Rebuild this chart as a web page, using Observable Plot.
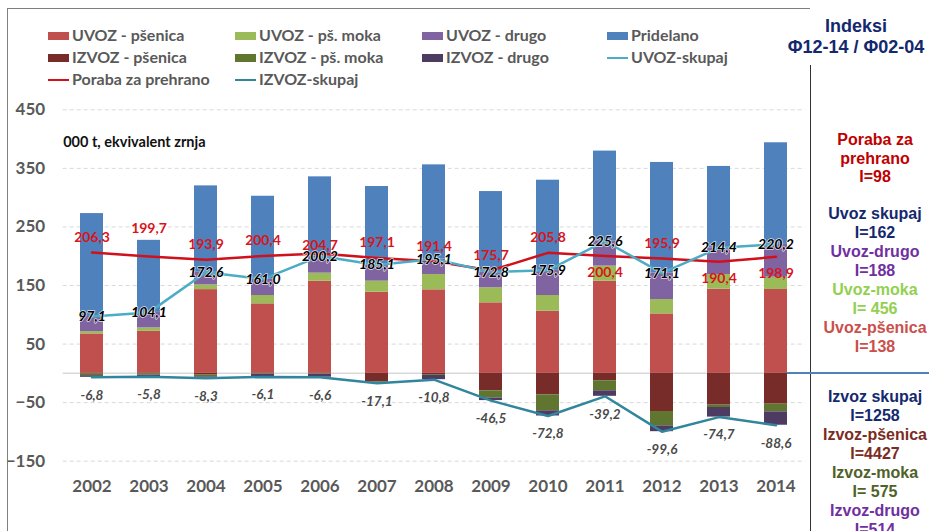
<!DOCTYPE html>
<html><head><meta charset="utf-8">
<script src="https://cdn.jsdelivr.net/npm/d3@7"></script>
<script src="https://cdn.jsdelivr.net/npm/@observablehq/plot@0.6"></script>
<style>
body{margin:0;background:#fff;font-family:Lato,"Open Sans",sans-serif;}
#wrap{position:relative;width:929px;height:531px;overflow:hidden;}
#head{position:relative;height:96px;}
.li{position:absolute;font-size:16px;font-weight:700;color:#595959;white-space:nowrap;line-height:20px;height:20px;}
.sw{display:inline-block;width:21px;margin-right:3px;vertical-align:middle;position:relative;top:-1px;}
.frame{position:absolute;pointer-events:none;}
.idx{position:absolute;text-align:center;font-family:"Liberation Sans",Arial,sans-serif;font-weight:700;font-size:16px;line-height:19px;}
</style>
</head><body>
<div id="wrap">
  <div id="head"></div>
  <div id="chart"></div>
  <div class="frame" style="left:7px;top:8px;width:0;height:523px;border-left:1.5px solid #7f7f7f;"></div>
  <div class="frame" style="left:7px;top:8px;width:803px;height:0;border-top:1.5px solid #7f7f7f;"></div>
  <div class="frame" style="left:810px;top:65px;width:0;height:466px;border-left:1.5px solid #333;"></div>
  <div class="frame" style="left:787px;top:372px;width:142px;height:0;border-top:2px solid #4F81BD;"></div>
  <div class="idx" style="left:786px;top:16px;width:140px;font-size:18px;line-height:21px;color:#14286E;">Indeksi<br>Φ12-14 / Φ02-04</div>
  <div class="idx" style="left:815px;top:131px;width:120px;line-height:18.5px;color:#C00000;">Poraba za<br>prehrano<br>I=98</div>
  <div class="idx" style="left:815px;top:204px;width:120px;">
    <span style="color:#14286E">Uvoz skupaj<br>I=162</span><br>
    <span style="color:#7030A0">Uvoz-drugo<br>I=188</span><br>
    <span style="color:#92D050">Uvoz-moka<br>I= 456</span><br>
    <span style="color:#C9504B">Uvoz-pšenica<br>I=138</span>
  </div>
  <div class="idx" style="left:815px;top:387px;width:120px;">
    <span style="color:#14286E">Izvoz skupaj<br>I=1258</span><br>
    <span style="color:#7B2C22">Izvoz-pšenica<br>I=4427</span><br>
    <span style="color:#4F6228">Izvoz-moka<br>I= 575</span><br>
    <span style="color:#7030A0">Izvoz-drugo<br>I=514</span>
  </div>
</div>
<script>
const years = [2002,2003,2004,2005,2006,2007,2008,2009,2010,2011,2012,2013,2014];
const uvozPsenica = [67.3,71.8,143.0,118.7,157.4,138.5,142.6,120.4,106.0,157.4,101.5,143.7,143.2];
const uvozMoka    = [4.0,5.8,8.0,14.2,13.7,18.9,26.2,25.7,26.9,25.7,24.5,25.1,21.0];
const uvozDrugo   = [25.8,26.5,21.6,28.1,29.1,27.7,26.3,26.7,43.0,42.5,45.1,45.6,56.0];
const pridelano   = [175.7,123.0,147.5,141.4,135.3,133.9,160.9,137.6,153.9,153.9,189.0,138.9,173.5];
const izvozPsenica = [-0.5,-0.5,-3.0,-0.5,-0.5,-14.5,-2.0,-29.8,-36.6,-12.6,-65.2,-54.3,-52.6];
const izvozMoka    = [-3.5,-2.5,-3.0,-1.0,-1.0,-1.0,-1.5,-12.5,-27.4,-17.2,-24.5,-4.0,-13.2];
const izvozDrugo   = [-2.8,-2.8,-2.3,-4.6,-5.1,-1.6,-7.3,-4.2,-8.8,-9.4,-9.9,-16.4,-22.8];
const uvozSkupaj  = [97.1,104.1,172.6,161.0,200.2,185.1,195.1,172.8,175.9,225.6,171.1,214.4,220.2];
const izvozSkupaj = [-6.8,-5.8,-8.3,-6.1,-6.6,-17.1,-10.8,-46.5,-72.8,-39.2,-99.6,-74.7,-88.6];
const poraba      = [206.3,199.7,193.9,200.4,204.7,197.1,191.4,175.7,205.8,200.4,195.9,190.4,198.9];
const yTicks = [450,350,250,150,50,-50,-150];
const barSeries = ["UVOZ - pšenica","UVOZ - pš. moka","UVOZ - drugo","Pridelano","IZVOZ - pšenica","IZVOZ - pš. moka","IZVOZ - drugo"];
const barColors = ["#C0504D","#9BBB59","#8064A2","#4F81BD","#772C2A","#5F7530","#4D3B62"];
const lineSeries = ["UVOZ-skupaj","Poraba za prehrano","IZVOZ-skupaj"];
const lineColors = ["#4BACC6","#D0101A","#31859C"];
const subtitle = "000 t, ekvivalent zrnja";

const barValues = [uvozPsenica,uvozMoka,uvozDrugo,pridelano,izvozPsenica,izvozMoka,izvozDrugo];
const rows = [];
years.forEach((y,i) => barSeries.forEach((s,k) => rows.push({year:String(y), series:s, value:barValues[k][i]})));
const pts = years.map((y,i) => ({year:String(y), uvoz:uvozSkupaj[i], izvoz:izvozSkupaj[i], poraba:poraba[i]}));
const fmt = v => d3.format(".1f")(v).replace(".", ",").replace("\u2212", "-");

// legend
const head = document.getElementById("head");
const legendItems = [
  [barSeries[0],barColors[0],"bar",48,35],[barSeries[1],barColors[1],"bar",235,35],[barSeries[2],barColors[2],"bar",422,35],[barSeries[3],barColors[3],"bar",607,35],
  [barSeries[4],barColors[4],"bar",48,57],[barSeries[5],barColors[5],"bar",235,57],[barSeries[6],barColors[6],"bar",422,57],[lineSeries[0],lineColors[0],"line",607,57],
  [lineSeries[1],lineColors[1],"line",48,79],[lineSeries[2],lineColors[2],"line",235,79]
];
for (const [name,color,kind,x,y] of legendItems) {
  const d = document.createElement("div");
  d.className = "li";
  d.style.left = x + "px"; d.style.top = (y-10) + "px";
  const sw = document.createElement("span");
  sw.className = "sw";
  sw.style.height = kind === "bar" ? "8px" : "2px";
  sw.style.background = color;
  d.appendChild(sw);
  d.appendChild(document.createTextNode(name));
  head.appendChild(d);
}

const below = new Set(["2011","2013","2014"]);
const chart = Plot.plot({
  width: 929, height: 435,
  marginLeft: 62.7, marginRight: 124, marginTop: 13.3, marginBottom: 70.3,
  style: {fontFamily: "Lato, sans-serif", background: "transparent", overflow: "visible"},
  x: {domain: years.map(String), paddingInner: 0.6, paddingOuter: 0.3, label: null},
  y: {domain: [-150, 450], label: null},
  color: {domain: barSeries, range: barColors},
  marks: [
    Plot.ruleY(yTicks, {stroke: "#D9D9D9", strokeDasharray: "4,3"}),
    Plot.ruleY([0], {stroke: "#D9D9D9", strokeWidth: 1.5}),
    Plot.barY(rows, {x: "year", y: "value", fill: "series", order: null}),
    Plot.line(pts, {x: "year", y: "izvoz", stroke: lineColors[2], strokeWidth: 2.5}),
    Plot.line(pts, {x: "year", y: "poraba", stroke: lineColors[1], strokeWidth: 2.5}),
    Plot.line(pts, {x: "year", y: "uvoz", stroke: lineColors[0], strokeWidth: 2.5}),
    Plot.text(pts, {x: "year", y: "izvoz", text: d => fmt(d.izvoz), dy: 18, fill: "#4a4a4a", fontSize: 13.5, fontStyle: "italic", fontWeight: 700}),
    Plot.text(pts, {filter: d => !below.has(d.year) && d.year !== "2003" && d.year !== "2006", x: "year", y: "poraba", text: d => fmt(d.poraba), dy: -15, fill: "#D9141B", fontSize: 14, fontWeight: 700}),
    Plot.text(pts, {filter: d => d.year === "2003", x: "year", y: "poraba", text: d => fmt(d.poraba), dy: -28, fill: "#D9141B", fontSize: 14, fontWeight: 700}),
    Plot.text(pts, {filter: d => d.year === "2006", x: "year", y: "poraba", text: d => fmt(d.poraba), dy: -8, fill: "#D9141B", fontSize: 14, fontWeight: 700}),
    Plot.text(pts, {filter: d => below.has(d.year), x: "year", y: "poraba", text: d => fmt(d.poraba), dy: 17, fill: "#D9141B", fontSize: 14, fontWeight: 700}),
    Plot.text(pts, {x: "year", y: "uvoz", text: d => fmt(d.uvoz), fill: "#000", stroke: "white", strokeWidth: 1.5, strokeOpacity: 0.8, fontSize: 14, fontStyle: "italic", fontWeight: 700}),
    Plot.text([subtitle], {frameAnchor: "top-left", dx: 0, dy: 27, textAnchor: "start", fill: "#111", fontSize: 14.5, fontWeight: 700}),
    Plot.axisY({ticks: yTicks, tickSize: 0, tickPadding: 18, fontSize: 17, fontWeight: 700, fill: "#595959"}),
    Plot.axisX({tickSize: 0, tickPadding: 19, fontSize: 17, fontWeight: 700, fill: "#595959"})
  ]
});
document.getElementById("chart").appendChild(chart);
</script>
</body></html>
